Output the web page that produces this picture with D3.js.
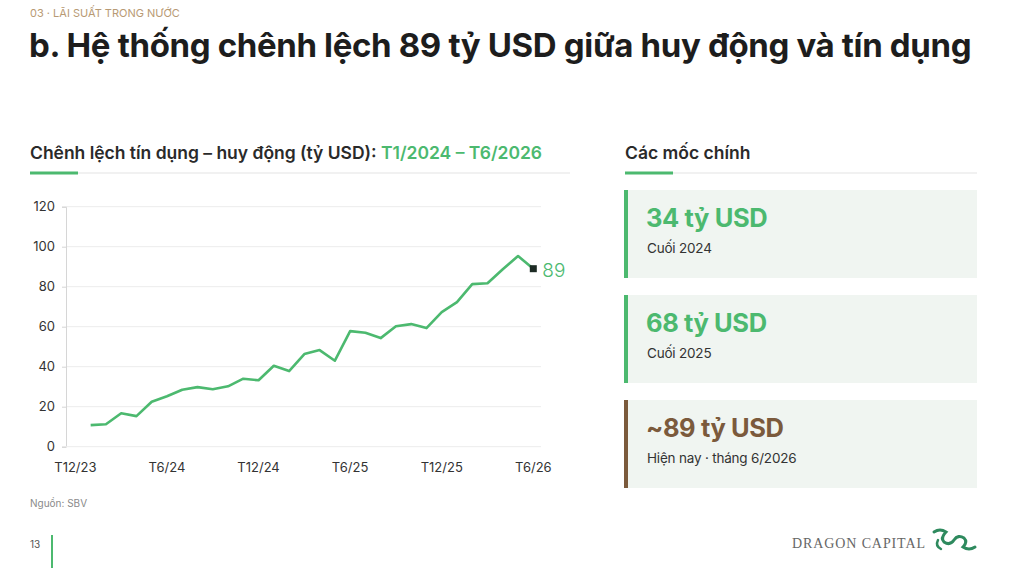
<!DOCTYPE html>
<html><head><meta charset="utf-8">
<script src="https://cdn.jsdelivr.net/npm/d3@7"></script>
<style>body{margin:0;background:#fff;font-family:Inter,"Noto Sans",sans-serif}</style>
</head><body><svg id="c" width="1020" height="568"></svg>
<script>
const months = d3.range(1,31); // month index since T12/23
const values = [10.8,11.2,16.7,15.3,22.5,25.2,28.5,29.8,28.7,30.2,34,33.2,40.5,37.8,46.3,48.3,43,57.8,57,54.3,60.2,61.3,59.3,67.3,72.3,81.3,81.7,88.7,95.3,89];
const xTickIdx = [0,6,12,18,24,30];
const xTickLabels = ["T12/23","T6/24","T12/24","T6/25","T12/25","T6/26"];
const yTicks = [0,20,40,60,80,100,120];
const cardBig = ["34 tỷ USD","68 tỷ USD","~89 tỷ USD"];
const cardSmall = ["Cuối 2024","Cuối 2025","Hiện nay · tháng 6/2026"];
const cardColor = ["#4cb96f","#4cb96f","#7b5a3c"];

const svg = d3.select("#c");
const G="#4cb96f";
svg.append("text").attr("x",30).attr("y",17).attr("font-size",11).attr("fill","#b89a74").text("03 · LÃI SUẤT TRONG NƯỚC");
svg.append("text").attr("x",29).attr("y",57).attr("font-size",33).attr("font-weight",700).attr("letter-spacing",-0.5).attr("fill","#1d1d1d").attr("textLength",942).text("b. Hệ thống chênh lệch 89 tỷ USD giữa huy động và tín dụng");

const st = svg.append("text").attr("x",30).attr("y",159).attr("font-size",17.5).attr("font-weight",600).attr("fill","#2a2a2a").attr("textLength",512);
st.append("tspan").text("Chênh lệch tín dụng – huy động (tỷ USD): ");
st.append("tspan").attr("fill",G).text("T1/2024 – T6/2026");
svg.append("line").attr("x1",30).attr("x2",570).attr("y1",173).attr("y2",173).attr("stroke","#e3e3e3");
svg.append("rect").attr("x",30).attr("y",171.5).attr("width",48).attr("height",3).attr("fill",G);

svg.append("text").attr("x",625).attr("y",159).attr("font-size",17.5).attr("font-weight",600).attr("fill","#2a2a2a").text("Các mốc chính");
svg.append("line").attr("x1",625).attr("x2",977).attr("y1",173).attr("y2",173).attr("stroke","#e3e3e3");
svg.append("rect").attr("x",625).attr("y",171.5).attr("width",48).attr("height",3).attr("fill",G);

const x = d3.scaleLinear().domain([0,30]).range([75.4,533.3]);
const y = d3.scaleLinear().domain([0,120]).range([446.7,206.7]);
const g = svg.append("g");
g.selectAll(".gl").data(yTicks.slice(1)).join("line").attr("x1",66).attr("x2",541).attr("y1",d=>y(d)).attr("y2",d=>y(d)).attr("stroke","#ececec");
const ya = g.append("g").attr("transform","translate(66,0)").call(d3.axisLeft(y).tickValues(yTicks).tickSize(4).tickPadding(7));
ya.select(".domain").attr("stroke","#d6d6d6");
ya.selectAll("line").attr("stroke","#d6d6d6");
ya.selectAll("text").attr("font-size",13).attr("fill","#333").attr("font-family","Inter");
svg.append("line").attr("x1",66).attr("x2",541).attr("y1",y(0)).attr("y2",y(0)).attr("stroke","#ececec");
g.selectAll(".xl").data(xTickIdx).join("text").attr("x",d=>x(d)).attr("y",472).attr("text-anchor","middle").attr("font-size",13).attr("fill","#333").text((d,i)=>xTickLabels[i]);
g.append("path").datum(values).attr("fill","none").attr("stroke",G).attr("stroke-width",2.6).attr("stroke-linejoin","round")
 .attr("d",d3.line().x((d,i)=>x(months[i])).y(d=>y(d)));
const lv = values[values.length-1];
g.append("rect").attr("x",x(30)-3.5).attr("y",y(lv)-3.5).attr("width",7).attr("height",7).attr("fill","#1d2b24");
g.append("text").attr("x",x(30)+9).attr("y",y(lv)+8).attr("font-size",19).attr("font-weight",300).attr("fill",G).text("89");

cardBig.forEach((t,i)=>{
 const y0=190+i*105;
 svg.append("rect").attr("x",624).attr("y",y0).attr("width",353).attr("height",88).attr("fill","#f0f5f1");
 svg.append("rect").attr("x",624).attr("y",y0).attr("width",4).attr("height",88).attr("fill",cardColor[i]);
 svg.append("text").attr("x",646).attr("y",y0+37).attr("font-size",25.5).attr("font-weight",700).attr("letter-spacing",-0.4).attr("fill",cardColor[i]).text(t);
 svg.append("text").attr("x",647).attr("y",y0+63).attr("font-size",13.5).attr("letter-spacing",-0.2).attr("fill","#333").text(cardSmall[i]);
});

svg.append("text").attr("x",30).attr("y",507).attr("font-size",10).attr("fill","#8a8a8a").text("Nguồn: SBV");
svg.append("text").attr("x",30).attr("y",548).attr("font-size",10).attr("fill","#555").text("13");
svg.append("line").attr("x1",52).attr("x2",52).attr("y1",535).attr("y2",568).attr("stroke",G).attr("stroke-width",2);
svg.append("text").attr("x",792).attr("y",548).attr("font-size",14).attr("fill","#666").attr("font-family","Liberation Serif, serif").attr("textLength",133).text("DRAGON CAPITAL");
const dg = svg.append("g").attr("fill","none").attr("stroke","#2e8a5e").attr("stroke-width",3).attr("stroke-linecap","round");
dg.append("path").attr("d","M934 532 q6 -4 12 0 q-6 6 -2 10 q6 4 10 -2 q4 -6 10 -2 q4 4 -1 9 q6 4 12 0");
dg.append("path").attr("d","M938 540 q-3 6 3 9").attr("stroke-width",2.5);
</script></body></html>
